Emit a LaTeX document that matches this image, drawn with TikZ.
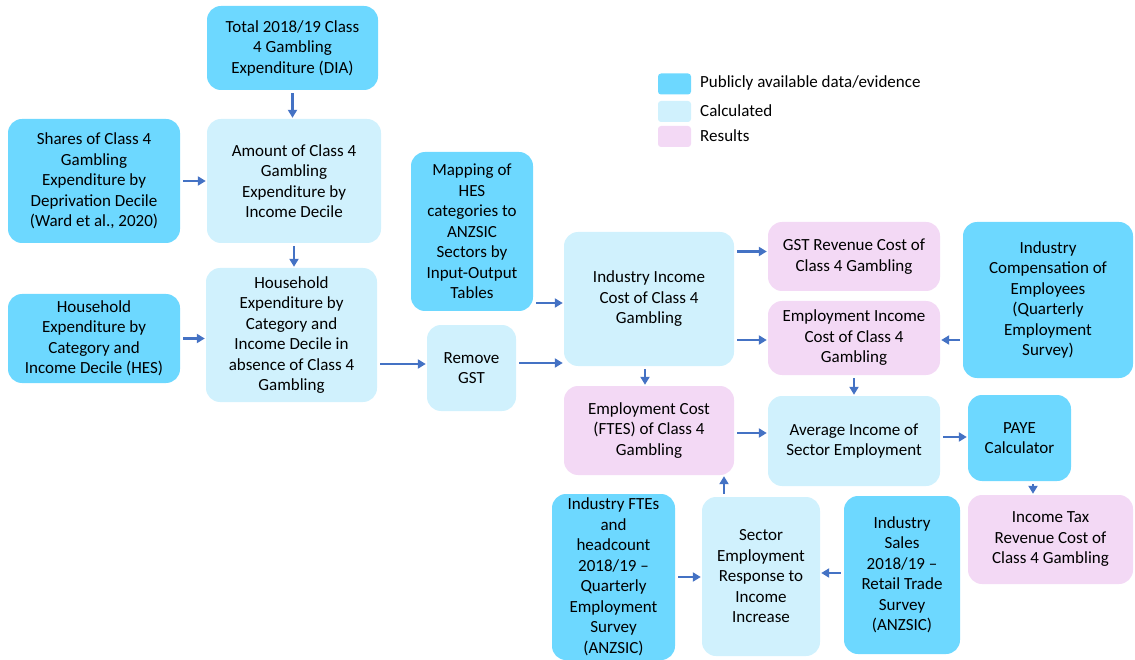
\documentclass[tikz,border=0pt]{standalone}
\usepackage{fontspec}
\setmainfont{Carlito}
\usetikzlibrary{arrows.meta,calc}
\definecolor{pubc}{HTML}{6DD8FF}
\definecolor{calcc}{HTML}{D0F1FD}
\definecolor{resc}{HTML}{F3D9F5}
\definecolor{arrc}{HTML}{4472C4}
\begin{document}
\begin{tikzpicture}[x=1pt,y=-1pt,
  box/.style={rounded corners=14pt, align=center, inner sep=0pt, text=black,
    font=\fontsize{17}{20.5}\selectfont},
  pub/.style={box, fill=pubc},
  calcbox/.style={box, fill=calcc},
  resbox/.style={box, fill=resc},
  legsq/.style={rounded corners=3pt, minimum width=33pt, minimum height=21pt, inner sep=0pt},
  legtxt/.style={anchor=west, inner sep=0pt, font=\fontsize{17}{20}\selectfont},
  arr/.style={draw=arrc, line width=2.5pt, -{Triangle[length=8pt,width=9pt]}, shorten >=1pt, shorten <=3pt}]
\useasboundingbox (0,0) rectangle (1135,660);
\newcommand{\bx}[7]{\node[#1, minimum width=#4-#2, minimum height=#5-#3] (#6) at ({(#2+#4)/2},{(#3+#5)/2}) {#7};}
\bx{pub}{207}{6}{378}{90}{dia}{Total 2018/19 Class\\4 Gambling\\Expenditure (DIA)}
\bx{calcbox}{207}{119}{381}{243}{amt}{Amount of Class 4\\Gambling\\Expenditure by\\Income Decile}
\bx{pub}{8}{119}{180}{243}{shares}{Shares of Class 4\\Gambling\\Expenditure by\\Deprivation Decile\\(Ward et al., 2020)}
\bx{calcbox}{206}{268}{377}{402}{hh}{Household\\Expenditure by\\Category and\\Income Decile in\\absence of Class 4\\Gambling}
\bx{pub}{8}{294}{180}{383}{hes}{Household\\Expenditure by\\Category and\\Income Decile (HES)}
\bx{calcbox}{427}{325}{516}{411}{gst}{Remove\\GST}
\bx{pub}{411}{152}{533}{311}{map}{Mapping of\\HES\\categories to\\ANZSIC\\Sectors by\\Input-Output\\Tables}
\bx{calcbox}{564}{232}{734}{366}{ind}{Industry Income\\Cost of Class 4\\Gambling}
\bx{resbox}{768}{222}{940}{291}{gstrev}{GST Revenue Cost of\\Class 4 Gambling}
\bx{resbox}{768}{301}{940}{375}{empinc}{Employment Income\\Cost of Class 4\\Gambling}
\bx{pub}{963}{222}{1133}{378}{comp}{Industry\\Compensation of\\Employees\\(Quarterly\\Employment\\Survey)}
\bx{resbox}{564}{386}{734}{475}{empcost}{Employment Cost\\(FTES) of Class 4\\Gambling}
\bx{calcbox}{768}{396}{940}{486}{avg}{Average Income of\\Sector Employment}
\bx{pub}{968}{395}{1071}{481}{paye}{PAYE\\Calculator}
\bx{resbox}{968}{495}{1133}{584}{itax}{Income Tax\\Revenue Cost of\\Class 4 Gambling}
\bx{pub}{552}{494}{675}{660}{fte}{Industry FTEs\\and\\headcount\\2018/19 --\\Quarterly\\Employment\\Survey\\(ANZSIC)}
\bx{calcbox}{702}{497}{820}{656}{ser}{Sector\\Employment\\Response to\\Income\\Increase}
\bx{pub}{844}{496}{960}{654}{sales}{Industry\\Sales\\2018/19 --\\Retail Trade\\Survey\\(ANZSIC)}
% legend
\node[legsq, fill=pubc] (l1) at (674.5,84) {};
\node[legsq, fill=calcc] (l2) at (674.5,111.5) {};
\node[legsq, fill=resc] (l3) at (674.5,136.5) {};
\node[legtxt] (t1) at (700,83) {Publicly available data/evidence};
\node[legtxt] (t2) at (700,110.5) {Calculated};
\node[legtxt] (t3) at (700,136) {Results};
% arrows
\draw[arr] (dia.south) -- (dia.south |- amt.north);
\draw[arr] (shares.east) -- (shares.east -| amt.west);
\draw[arr] (amt.south) -- (amt.south |- hh.north);
\draw[arr] (hes.east) -- (hes.east -| hh.west);
\draw[arr] ([yshift=4pt]gst.west -| hh.east) -- ([yshift=4pt]gst.west);
\draw[arr] ([yshift=5pt]gst.east) -- ([yshift=5pt]gst.east -| ind.west);
\draw[arr] ([yshift=-4pt]ind.west -| map.east) -- ([yshift=-4pt]ind.west);
\draw[arr] ([yshift=5pt]gstrev.west -| ind.east) -- ([yshift=5pt]gstrev.west);
\draw[arr] ([yshift=-2pt]empinc.west -| ind.east) -- ([yshift=-2pt]empinc.west);
\draw[arr] ([xshift=-4pt]ind.south) -- ([xshift=-4pt]ind.south |- empcost.north);
\draw[arr] ([yshift=-2pt]comp.west |- empinc.east) -- ([yshift=-2pt]empinc.east);
\draw[arr] (empinc.south) -- (avg.north);
\draw[arr] ([yshift=-2.5pt]empcost.east) -- ([yshift=-2.5pt]empcost.east -| avg.west);
\draw[arr] ([yshift=1pt]avg.east |- paye.west) -- ([yshift=1pt]paye.west);
\draw[arr] ([xshift=13.5pt]paye.south) -- ([xshift=13.5pt]paye.south |- itax.north);
\draw[arr] ([xshift=-37pt]ser.north) -- ([xshift=-37pt]ser.north |- empcost.south);
\draw[arr] (fte.east) -- (fte.east -| ser.west);
\draw[arr] ([yshift=2pt]sales.west) -- ([yshift=2pt]sales.west -| ser.east);
\end{tikzpicture}
\end{document}
